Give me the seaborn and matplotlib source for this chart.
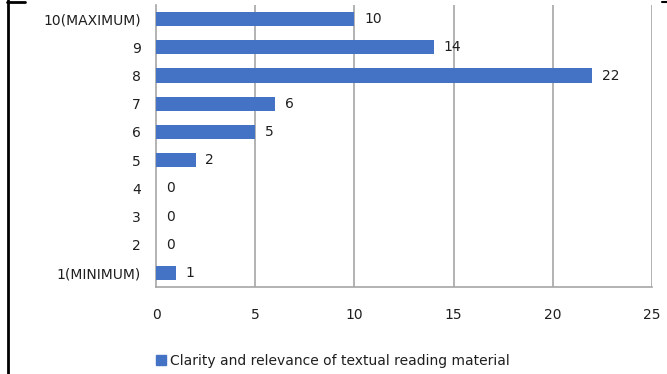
import matplotlib
matplotlib.use("Agg")
import matplotlib.pyplot as plt
from matplotlib.lines import Line2D
import matplotlib.patches as mpatches
import pandas as pd
import seaborn as sns

ratings = ["10(MAXIMUM)", "9", "8", "7", "6", "5", "4", "3", "2", "1(MINIMUM)"]
counts = [10, 14, 22, 6, 5, 2, 0, 0, 0, 1]
series_name = "Clarity and relevance of textual reading material"
x_ticks = [0, 5, 10, 15, 20, 25]

BAR = "#4472C4"
GRID = "#A6A6A6"
TXT = "#1F1F1F"

sns.set_style("white")
plt.rcParams["font.family"] = ["DejaVu Sans"]
FS = 10

df = pd.DataFrame({"rating": ratings, "count": counts})

fig = plt.figure(figsize=(6.67, 3.74), dpi=100)
ax = fig.add_axes([0.2339, 0.2326, 0.9775 - 0.2339, 0.9866 - 0.2326])

sns.barplot(data=df, x="count", y="rating", orient="h", color=BAR,
            width=0.5, saturation=1, ax=ax, zorder=3, linewidth=0)

ax.bar_label(ax.containers[0], labels=[str(c) for c in counts], padding=7,
             fontsize=FS, color=TXT)

ax.set_xlim(0, 25)
ax.set_ylim(len(ratings) - 0.5, -0.5)
ax.set_xticks(x_ticks)
ax.set_xticklabels([str(t) for t in x_ticks], fontsize=FS, color=TXT)
ax.set_yticks(range(len(ratings)))
ax.set_yticklabels(ratings, fontsize=FS, color=TXT)
ax.set_yticks([i + 0.5 for i in range(-1, len(ratings))], minor=True)
ax.tick_params(axis="y", which="major", length=0, pad=11)
ax.tick_params(axis="y", which="minor", length=5, direction="out", color=GRID, width=1)
ax.tick_params(axis="x", length=8, direction="inout", color=GRID, width=1, pad=11)
ax.set_xlabel("")
ax.set_ylabel("")

for t in x_ticks[1:]:
    ax.axvline(t, color=GRID, lw=1.2, zorder=1)

for side in ["top", "right"]:
    ax.spines[side].set_visible(False)
for side in ["left", "bottom"]:
    ax.spines[side].set_color(GRID)
    ax.spines[side].set_linewidth(1.2)

handle = mpatches.Patch(color=BAR, label=series_name)
fig.legend(handles=[handle], loc="center left", bbox_to_anchor=(0.215, 0.035),
           frameon=False, fontsize=FS, handlelength=0.7, handleheight=0.7,
           handletextpad=0.3, labelcolor=TXT)

# frame remnants at the image edges
fig.add_artist(Line2D([0.012, 0.012], [0, 1], transform=fig.transFigure,
                      color="black", lw=2))
fig.add_artist(Line2D([0.011, 0.038], [0.995, 0.995], transform=fig.transFigure,
                      color="black", lw=2))
fig.add_artist(Line2D([0.992, 1.0], [0.995, 0.995], transform=fig.transFigure,
                      color="black", lw=1.5))

fig.savefig("out.png", dpi=100)
